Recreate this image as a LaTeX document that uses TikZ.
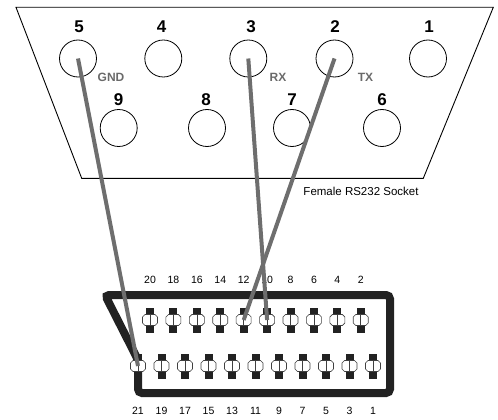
\documentclass[tikz,border=0pt]{standalone}
\usepackage{fontspec}
\setmainfont{Liberation Sans}
\definecolor{wirecol}{HTML}{6E6E6E}
\definecolor{outl}{HTML}{222222}
\definecolor{sigcol}{HTML}{6A6A6A}
\begin{document}
\begin{tikzpicture}[x=1pt,y=-1pt,
  dbpin/.style={circle,draw=black,line width=0.8pt,minimum size=37pt,inner sep=0pt},
  dblabel/.style={inner sep=0pt,font=\bfseries\fontsize{17}{17}\selectfont},
  siglabel/.style={inner sep=0pt,text=sigcol,font=\bfseries\fontsize{12}{12}\selectfont},
  sclabel/.style={inner sep=0pt,font=\fontsize{10.5}{10.5}\selectfont},
  captionlabel/.style={inner sep=0pt,font=\fontsize{11.5}{11.5}\selectfont},
  wire/.style={draw=wirecol,line width=4pt},
  scartpin/.pic={
    \fill[outl] (-4,-12.5) rectangle (4,12.5);
    \draw[fill=white,draw=black!75,line width=0.6pt]
      (-7.5,-3) -- (-5,-5.5) -- (5,-5.5) -- (7.5,-3) -- (7.5,3) -- (5,5.5) -- (-5,5.5) -- (-7.5,3) -- cycle;
    \draw[draw=black!75,line width=0.6pt] (0,-5.5) -- (0,5.5);
  }]
\useasboundingbox (0,0) rectangle (498,420);

% DB9 shell
\draw[line width=0.9pt] (16,7.3) -- (493.3,7.3) -- (423.3,178.3) -- (81.7,178.3) -- cycle;

% DB9 pins
\node[dbpin] (d5) at (78,58.5) {};
\node[dbpin] (d4) at (163.3,58.5) {};
\node[dbpin] (d3) at (248.3,58.5) {};
\node[dbpin] (d2) at (334.5,58.5) {};
\node[dbpin] (d1) at (428,58.5) {};
\node[dbpin] (d9) at (118.7,128) {};
\node[dbpin] (d8) at (207,128) {};
\node[dbpin] (d7) at (292,128) {};
\node[dbpin] (d6) at (382,128) {};

\node[dblabel] (n5) at (79,27) {5};
\node[dblabel] (n4) at (161.7,27) {4};
\node[dblabel] (n3) at (251,27) {3};
\node[dblabel] (n2) at (335,27) {2};
\node[dblabel] (n1) at (429,27) {1};
\node[dblabel] (n9) at (118.7,99.5) {9};
\node[dblabel] (n8) at (206,99.5) {8};
\node[dblabel] (n7) at (292,99.5) {7};
\node[dblabel] (n6) at (382,99.5) {6};

\node[siglabel] (gnd) at (111,77.5) {GND};
\node[siglabel] (rx) at (278,77.5) {RX};
\node[siglabel] (tx) at (365.5,77.5) {TX};

\node[captionlabel] (cap) at (361,191) {Female RS232 Socket};

% SCART outline
\draw[outl,line width=8pt,rounded corners=4pt]
  (105,295) -- (390,295) -- (390,393) -- (138,393) -- (138,360) -- cycle;

% SCART pins
\foreach \n [count=\k from 0] in {20,18,...,2} {
  \coordinate (s\n) at ({150+23.42*\k},320);
  \pic at (s\n) {scartpin};
  \node[sclabel] (t\n) at ({150+23.42*\k},280) {\n};
}
\foreach \n [count=\k from 0] in {21,19,...,1} {
  \coordinate (s\n) at ({138+23.5*\k},366);
  \pic at (s\n) {scartpin};
  \node[sclabel] (t\n) at ({138+23.5*\k},411) {\n};
}

% wires
\draw[wire] (d5.center) -- (s21);
\draw[wire] (d3.center) -- (s10);
\draw[wire] (d2.center) -- (s12);
\end{tikzpicture}
\end{document}
